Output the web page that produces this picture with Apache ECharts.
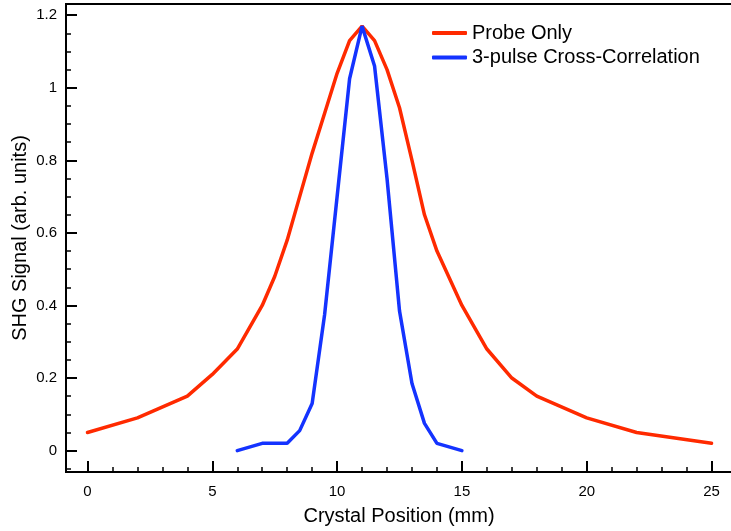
<!DOCTYPE html>
<html>
<head>
<meta charset="utf-8">
<script src="https://cdn.jsdelivr.net/npm/echarts@6/dist/echarts.min.js"></script>
<style>
  html, body { margin: 0; padding: 0; background: #fff; }
  #main { width: 731px; height: 531px; }
</style>
</head>
<body>
<div id="main"></div>
<script>
// data
var probeX = [0, 2, 4, 5, 6, 7, 7.5, 8, 8.5, 9, 9.5, 10, 10.5, 11, 11.5, 12, 12.5, 13, 13.5, 14, 15, 16, 17, 18, 20, 22, 25];
var probeY = [0.05, 0.09, 0.15, 0.21, 0.28, 0.40, 0.48, 0.58, 0.70, 0.82, 0.93, 1.04, 1.13, 1.17, 1.13, 1.05, 0.945, 0.80, 0.65, 0.55, 0.40, 0.28, 0.20, 0.15, 0.09, 0.05, 0.02];
var xcorrX = [6, 7, 8, 8.5, 9, 9.5, 10.5, 11, 11.5, 12, 12.5, 13, 13.5, 14, 15];
var xcorrY = [0, 0.02, 0.02, 0.055, 0.13, 0.375, 1.025, 1.17, 1.06, 0.75, 0.385, 0.185, 0.075, 0.02, 0];

var xMajor = [0, 5, 10, 15, 20, 25];
var xMinor = [1, 2, 3, 4, 6, 7, 8, 9, 11, 12, 13, 14, 16, 17, 18, 19, 21, 22, 23, 24];
var yMajor = [0, 0.2, 0.4, 0.6, 0.8, 1, 1.2];
var yMinor = [-0.05, 0.05, 0.1, 0.15, 0.25, 0.3, 0.35, 0.45, 0.5, 0.55, 0.65, 0.7, 0.75, 0.85, 0.9, 0.95, 1.05, 1.1, 1.15];

var FONT = 'Liberation Sans, Arial, Helvetica, sans-serif';

function pairs(xs, ys) {
    var out = [];
    for (var i = 0; i < xs.length; i++) out.push([xs[i], ys[i]]);
    return out;
}

var myChart = echarts.init(document.getElementById('main'));
var option = {
    backgroundColor: '#fff',
    animation: false,
    textStyle: { fontFamily: FONT },
    grid: {
        left: 66, top: 4, width: 666, height: 468,
        outerBoundsMode: 'none', containLabel: false,
        show: true, borderColor: '#000', borderWidth: 2
    },
    legend: {
        left: 427, top: 18, orient: 'vertical',
        itemWidth: 35, itemHeight: 4, itemGap: 4.5,
        icon: 'roundRect',
        textStyle: { fontFamily: FONT, fontSize: 20, color: '#000', lineHeight: 20, padding: [0, 0, 0, 0] },
        data: ['Probe Only', '3-pulse Cross-Correlation']
    },
    xAxis: [{
        type: 'value', min: -0.861, max: 25.82, position: 'bottom',
        name: 'Crystal Position (mm)', nameLocation: 'middle', nameGap: 34, nameMoveOverlap: false,
        nameTextStyle: { fontFamily: FONT, fontSize: 20, color: '#000' },
        axisLine: { onZero: false, lineStyle: { color: '#000', width: 2 } },
        axisTick: { inside: true, length: 11, customValues: xMajor, lineStyle: { color: '#000', width: 2 } },
        axisLabel: { customValues: xMajor, color: '#000', fontSize: 15, margin: 12, fontFamily: FONT },
        splitLine: { show: false }
    }, {
        type: 'value', min: -0.861, max: 25.82, position: 'bottom',
        axisLine: { show: false, onZero: false },
        axisTick: { inside: true, length: 5, customValues: xMinor, lineStyle: { color: '#000', width: 1.5 } },
        axisLabel: { show: false },
        splitLine: { show: false }
    }],
    yAxis: [{
        type: 'value', min: -0.059, max: 1.231, position: 'left',
        name: 'SHG Signal (arb. units)', nameLocation: 'middle', nameGap: 36, nameMoveOverlap: false,
        nameTextStyle: { fontFamily: FONT, fontSize: 20, color: '#000' },
        axisLine: { onZero: false, lineStyle: { color: '#000', width: 2 } },
        axisTick: { inside: true, length: 11, customValues: yMajor, lineStyle: { color: '#000', width: 2 } },
        axisLabel: { customValues: yMajor, color: '#000', fontSize: 15, margin: 9, fontFamily: FONT },
        splitLine: { show: false }
    }, {
        type: 'value', min: -0.059, max: 1.231, position: 'left',
        axisLine: { show: false, onZero: false },
        axisTick: { inside: true, length: 5, customValues: yMinor, lineStyle: { color: '#000', width: 1.5 } },
        axisLabel: { show: false },
        splitLine: { show: false }
    }],
    series: [{
        name: 'Probe Only', type: 'line', xAxisIndex: 0, yAxisIndex: 0,
        data: pairs(probeX, probeY),
        symbol: 'none', color: '#ff2a00',
        lineStyle: { width: 3.5, color: '#ff2a00', cap: 'round' }
    }, {
        name: '3-pulse Cross-Correlation', type: 'line', xAxisIndex: 0, yAxisIndex: 0,
        data: pairs(xcorrX, xcorrY),
        symbol: 'none', color: '#1433ff',
        lineStyle: { width: 3.5, color: '#1433ff', cap: 'round' }
    }]
};
myChart.setOption(option);
</script>
</body>
</html>
